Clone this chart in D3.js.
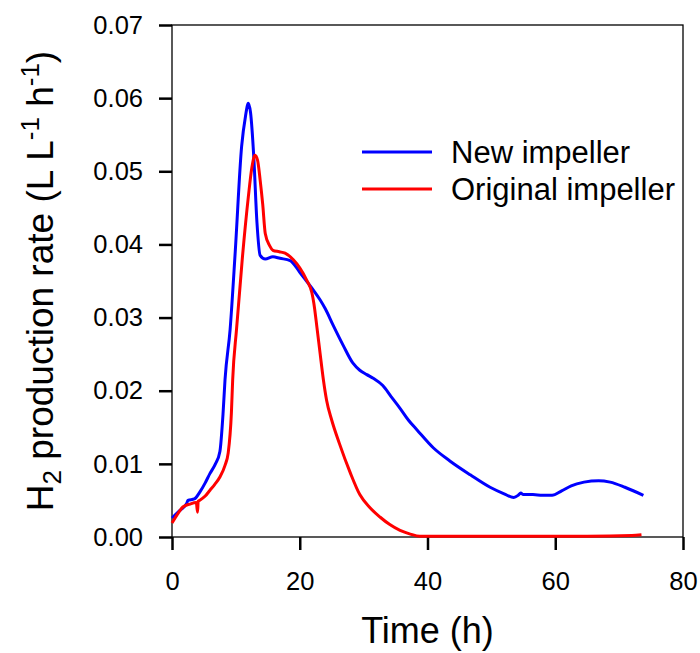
<!DOCTYPE html>
<meta charset="utf-8">
<script src="https://d3js.org/d3.v7.min.js"></script>
<style>
  body { margin: 0; background: #fff; }
  text { font-family: "Liberation Sans", Arial, sans-serif; fill: #000; }
</style>
<body>
<div id="chart"></div>
<script>
// New impeller (blue)
var timeNew = [0, 1.2, 2.3, 2.5, 3.5, 4.4, 5.2, 5.95, 6.8, 7.5, 8.0, 8.3, 9.1, 9.9, 10.9, 11.5, 11.95, 12.3, 12.8, 13.3, 13.8, 14.6, 15.8, 16.9, 18.5, 20, 21.3, 22.1, 23.2, 24, 25.2, 26.8, 28.3, 29.4, 30.5, 31.5, 33, 34.3, 35.7, 37, 38.4, 40.9, 43.5, 46.7, 49.8, 52, 53.5, 54.2, 54.6, 55, 56.5, 58, 59.5, 61, 62.5, 64.5, 66.8, 68.6, 70.9, 73.8];
var rateNew = [0.0026, 0.0036, 0.0046, 0.0050, 0.0052, 0.0062, 0.0074, 0.0087, 0.0100, 0.0117, 0.0170, 0.0215, 0.0284, 0.0390, 0.0534, 0.0575, 0.0593, 0.0580, 0.0520, 0.0430, 0.0385, 0.0380, 0.0383, 0.0381, 0.0378, 0.0362, 0.0347, 0.0338, 0.0324, 0.0312, 0.0290, 0.0262, 0.0238, 0.0228, 0.0222, 0.0217, 0.0207, 0.0192, 0.0176, 0.0160, 0.0146, 0.0122, 0.0104, 0.0085, 0.0068, 0.0059, 0.0054, 0.0057, 0.0060, 0.0058, 0.0058, 0.0057, 0.0057, 0.0063, 0.0070, 0.0075, 0.0077, 0.0075, 0.0068, 0.0057];

// Original impeller (red)
var timeOrig = [0, 1, 1.7, 2.8, 3.8, 4.0, 4.1, 4.3, 5.2, 5.95, 6.7, 7.5, 8.3, 8.8, 9.3, 9.5, 10.1, 11, 11.95, 12.5, 13.0, 13.4, 13.8, 14.2, 14.6, 15.3, 15.8, 16.8, 17.7, 19, 20, 21.1, 21.9, 22.2, 22.7, 23.2, 23.7, 24.2, 25, 26.2, 27.9, 29.4, 31, 32.6, 34.1, 35.7, 37.3, 38.8, 45, 55, 65, 72, 73.5];
var rateOrig = [0.0019, 0.0033, 0.0041, 0.0045, 0.0047, 0.0034, 0.0049, 0.0050, 0.0056, 0.0064, 0.0072, 0.0082, 0.0098, 0.0115, 0.0170, 0.0215, 0.0284, 0.0380, 0.0465, 0.0505, 0.0522, 0.0515, 0.0488, 0.0455, 0.0415, 0.0398, 0.0392, 0.0390, 0.0388, 0.0379, 0.0368, 0.0351, 0.0334, 0.0320, 0.0286, 0.0250, 0.0215, 0.0187, 0.0160, 0.0128, 0.0088, 0.0058, 0.0040, 0.0027, 0.0017, 0.0009, 0.0004, 0.0001, 0.0001, 0.0001, 0.0001, 0.0002, 0.0003];

var xTicks = [0, 20, 40, 60, 80];
var yTicks = [0, 0.01, 0.02, 0.03, 0.04, 0.05, 0.06, 0.07];
var seriesNames = ["New impeller", "Original impeller"];
var seriesColors = ["#0000ff", "#ff0000"];

var W = 700, H = 653;
var margin = { top: 25, right: 17, bottom: 116, left: 172 };
var width = W - margin.left - margin.right,
    height = H - margin.top - margin.bottom;

var svg = d3.select("#chart").append("svg")
  .attr("width", W).attr("height", H);
var g = svg.append("g").attr("transform", "translate(" + margin.left + "," + margin.top + ")");

var x = d3.scaleLinear().domain([0, 80]).range([0, width]);
var y = d3.scaleLinear().domain([0, 0.07]).range([height, 0]);

// frame
g.append("rect").attr("width", width).attr("height", height)
  .attr("fill", "none").attr("stroke", "#000").attr("stroke-width", 1.3);

// axes
var xAxis = g.append("g").attr("transform", "translate(0," + height + ")")
  .call(d3.axisBottom(x).tickValues(xTicks).tickSize(13).tickPadding(22).tickFormat(d3.format("d")));
var yAxis = g.append("g")
  .call(d3.axisLeft(y).tickValues(yTicks).tickSize(13).tickPadding(16).tickFormat(d3.format(".2f")));
[xAxis, yAxis].forEach(function (a) {
  a.select(".domain").remove();
  a.selectAll("line").attr("stroke", "#000").attr("stroke-width", 2.5);
  a.selectAll("text").attr("font-size", "25.5px").attr("font-family", "Liberation Sans, Arial, sans-serif");
});

// lines
var line = d3.line()
  .x(function (d) { return x(d[0]); })
  .y(function (d) { return y(d[1]); })
  .curve(d3.curveMonotoneX);

var newData = timeNew.map(function (t, i) { return [t, rateNew[i]]; });
var origData = timeOrig.map(function (t, i) { return [t, rateOrig[i]]; });

g.append("path").datum(newData).attr("d", line)
  .attr("fill", "none").attr("stroke", seriesColors[0]).attr("stroke-width", 3);
g.append("path").datum(origData).attr("d", line)
  .attr("fill", "none").attr("stroke", seriesColors[1]).attr("stroke-width", 3);

// legend
var legend = svg.append("g");
seriesNames.forEach(function (name, i) {
  var ly = 152 + i * 37;
  legend.append("line").attr("x1", 362).attr("x2", 432).attr("y1", ly).attr("y2", ly)
    .attr("stroke", seriesColors[i]).attr("stroke-width", 3);
  legend.append("text").attr("x", 451).attr("y", ly + 11)
    .attr("font-size", "31px").text(name);
});

// axis titles
svg.append("text")
  .attr("x", margin.left + width / 2).attr("y", 643)
  .attr("text-anchor", "middle").attr("font-size", "36px")
  .text("Time (h)");

var yt = svg.append("text")
  .attr("transform", "translate(53," + 281 + ") rotate(-90)")
  .attr("text-anchor", "middle").attr("font-size", "37px");
yt.append("tspan").text("H");
yt.append("tspan").attr("font-size", "26px").attr("dy", 8).text("2");
yt.append("tspan").attr("dy", -8).text(" production rate (L L");
yt.append("tspan").attr("font-size", "26px").attr("dy", -14).text("-1");
yt.append("tspan").attr("dy", 14).text(" h");
yt.append("tspan").attr("font-size", "26px").attr("dy", -14).text("-1");
yt.append("tspan").attr("dy", 14).text(")");
</script>
</body>
